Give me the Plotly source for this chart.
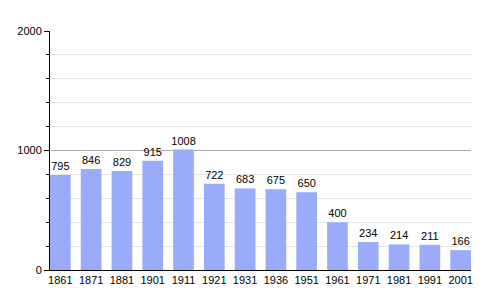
import plotly.graph_objects as go

years = ["1861", "1871", "1881", "1901", "1911", "1921", "1931", "1936",
         "1951", "1961", "1971", "1981", "1991", "2001"]
population = [795, 846, 829, 915, 1008, 722, 683, 675, 650, 400, 234, 214, 211, 166]
y_ticks = [0, 1000, 2000]

bar_w = 0.672
fig = go.Figure()
fig.add_trace(go.Bar(
    x=years, y=population, width=bar_w,
    marker=dict(color="#9aabfa", line=dict(width=0)),
    text=[str(v) for v in population], textposition="outside",
    constraintext="none",
    textfont=dict(family="Liberation Sans, Arial, sans-serif", size=11, color="#000"),
    cliponaxis=False,
))

fig.update_layout(
    width=500, height=300,
    margin=dict(l=50, r=29, t=31, b=30),
    paper_bgcolor="white", plot_bgcolor="white",
    showlegend=False,
    font=dict(family="Liberation Sans, Arial, sans-serif", size=11, color="#000"),
    xaxis=dict(
        type="category", range=[-bar_w / 2, len(years) - 1 + bar_w / 2],
        showline=True, linecolor="black", linewidth=1,
        ticks="", showgrid=False, tickfont=dict(size=11),
        fixedrange=True,
    ),
    yaxis=dict(
        range=[0, 2000], tickvals=y_ticks, ticktext=[str(t) for t in y_ticks],
        showline=True, linecolor="black", linewidth=1,
        ticks="outside", ticklen=5, tickcolor="black", tickwidth=1,
        showgrid=True, gridcolor="#aaaaaa", gridwidth=1,
        zeroline=False, tickfont=dict(size=11),
        minor=dict(dtick=200, ticks="outside", ticklen=3, tickcolor="black",
                   showgrid=True, gridcolor="#e6e6e6", gridwidth=1),
    ),
)

fig.write_html("out.html")
